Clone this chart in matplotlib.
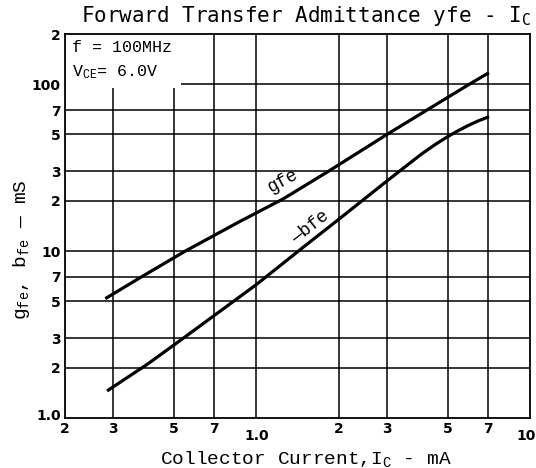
import matplotlib
matplotlib.use("Agg")
import matplotlib.pyplot as plt
from matplotlib.patches import Rectangle
from matplotlib.transforms import ScaledTranslation

# collector current (mA) and admittance (mS)
ic_gfe = [0.284, 0.38, 0.55, 0.867, 1.25, 1.83, 3.0, 4.2, 6.0, 7.0]
gfe = [5.25, 7.0, 10.0, 15.0, 20.5, 30, 50, 70, 100, 116]

ic_bfe = [0.288, 0.4, 0.54, 0.7, 1.0, 1.5, 2.0, 3.0, 4.0, 4.5, 5.0, 5.5, 6.0, 6.5, 7.0]
bfe = [1.47, 2.1, 3.0, 4.1, 6.3, 10.7, 15.5, 26.3, 38, 43.5, 48.5, 53, 57, 60.5, 63.4]

x_ticks = [0.2, 0.3, 0.5, 0.7, 1.0, 2, 3, 5, 7, 10]
x_labels = ["2", "3", "5", "7", "1.0", "2", "3", "5", "7", "10"]
y_ticks = [1, 2, 3, 5, 7, 10, 20, 30, 50, 70, 100, 200]
y_labels = ["1.0", "2", "3", "5", "7", "10", "2", "3", "5", "7", "100", "2"]

plt.rcParams['mathtext.fontset'] = 'custom'
plt.rcParams['mathtext.rm'] = 'Liberation Mono'
plt.rcParams['mathtext.it'] = 'Liberation Mono'
plt.rcParams['mathtext.sf'] = 'DejaVu Sans Mono'

mono = 'Liberation Mono'


def main():
    fig = plt.figure(figsize=(5.36, 4.68), dpi=100)
    ax = fig.add_axes([65 / 536, 1 - 418 / 468, 465 / 536, 384 / 468])
    ax.set_xscale('log')
    ax.set_yscale('log')
    ax.set_xlim(0.2, 10)
    ax.set_ylim(1, 200)

    ax.set_xticks(x_ticks)
    ax.set_xticklabels(x_labels, fontweight='bold', fontsize=10)
    ax.set_yticks(y_ticks)
    ax.set_yticklabels(y_labels, fontweight='bold', fontsize=10)
    ax.minorticks_off()
    ax.tick_params(length=0, pad=3)

    # the 1.0 and 10 labels sit lower in the original
    for lab in ax.get_xticklabels():
        if lab.get_text() == '1.0':
            lab.set_transform(lab.get_transform()
                              + ScaledTranslation(0, -7 / 100, fig.dpi_scale_trans))
        elif lab.get_text() == '10':
            lab.set_transform(lab.get_transform()
                              + ScaledTranslation(-4 / 100, -7 / 100, fig.dpi_scale_trans))
    for lab in ax.get_yticklabels():
        if lab.get_text() == '1.0':
            lab.set_transform(lab.get_transform()
                              + ScaledTranslation(0, 4 / 100, fig.dpi_scale_trans))

    for x in x_ticks[1:-1]:
        ax.axvline(x, color='black', lw=1.1, zorder=1)
    for y in y_ticks[1:-1]:
        ax.axhline(y, color='black', lw=1.1, zorder=1)
    for s in ax.spines.values():
        s.set_linewidth(1.3)

    # white panel behind the condition text
    ax.add_patch(Rectangle((0, 0.86), 0.25, 0.14, transform=ax.transAxes,
                           facecolor='white', edgecolor='none', zorder=2))
    ax.text(0.015, 0.965, 'f = 100MHz', transform=ax.transAxes, fontsize=12,
            family=mono, va='center', zorder=3)
    ax.text(0.015, 0.9, r'V$_{\rm CE}$= 6.0V', transform=ax.transAxes,
            fontsize=12, family=mono, va='center', zorder=3)

    ax.plot(ic_gfe, gfe, color='black', lw=2.3, zorder=4)
    ax.plot(ic_bfe, bfe, color='black', lw=2.3, zorder=4)

    ax.text(1.25, 26.5, 'gfe', family=mono, fontsize=13, rotation=28,
            ha='center', va='center', zorder=5)
    ax.text(1.57, 14.0, '—bfe', family=mono, fontsize=13, rotation=38,
            ha='center', va='center', zorder=5)

    fig.text(306 / 536, 1 - 16 / 468,
             r'Forward Transfer Admittance yfe - I$_{\mathsf{C}}$',
             ha='center', va='center', fontsize=15, family='DejaVu Sans Mono')
    fig.text(306 / 536, 1 - 459 / 468, r'Collector Current,I$_{\rm C}$ - mA',
             ha='center', va='center', fontsize=14, family=mono)
    fig.text(22 / 536, 1 - 250 / 468, r'g$_{\rm fe}$, b$_{\rm fe}$ — mS',
             ha='center', va='center', fontsize=14, family=mono, rotation=90)

    fig.savefig('out.png', dpi=100)


if __name__ == '__main__':
    main()
